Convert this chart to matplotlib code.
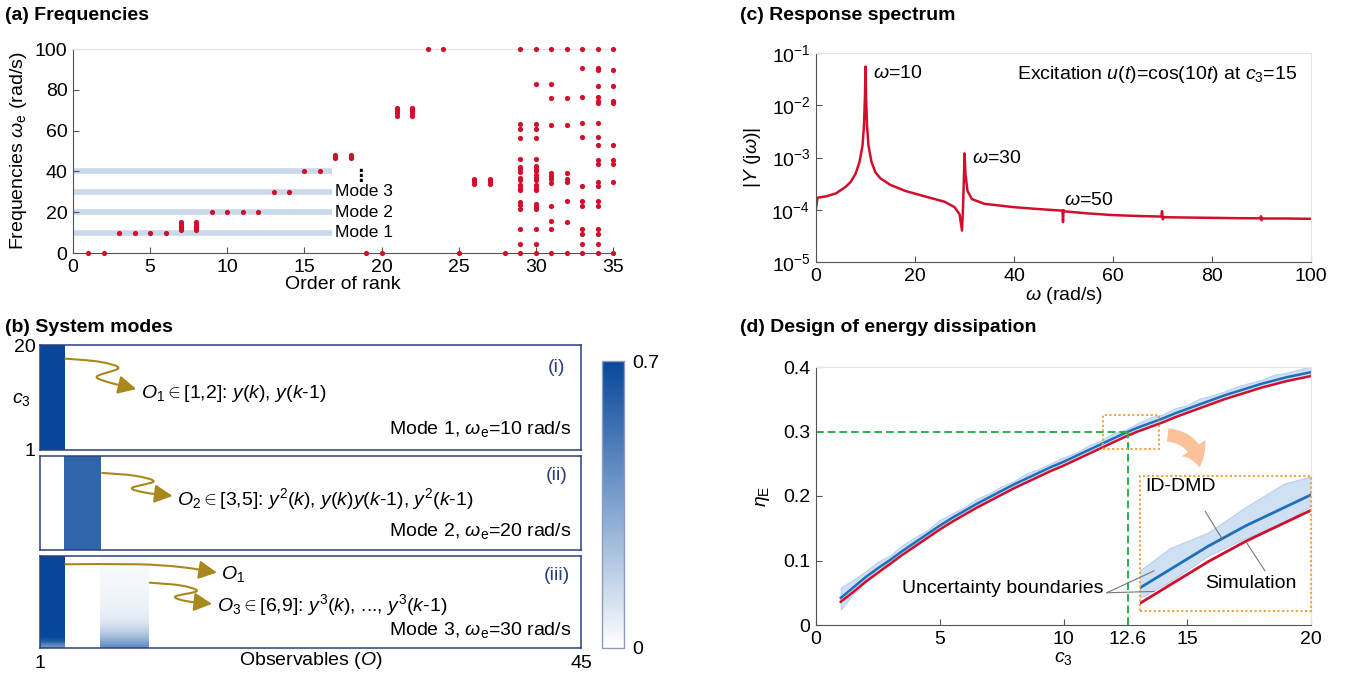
import numpy as np
import matplotlib
matplotlib.use('Agg')
import matplotlib.pyplot as plt
from matplotlib.path import Path
from matplotlib.patches import FancyArrowPatch, Rectangle
from matplotlib.lines import Line2D
from matplotlib.colors import LinearSegmentedColormap
from matplotlib.ticker import NullLocator

plt.rcParams['font.family'] = ['Liberation Sans', 'DejaVu Sans']
plt.rcParams['mathtext.fontset'] = 'custom'
plt.rcParams['mathtext.rm'] = 'Liberation Sans'
plt.rcParams['mathtext.it'] = 'Liberation Sans:italic'
plt.rcParams['mathtext.bf'] = 'Liberation Sans:bold'
plt.rcParams['mathtext.sf'] = 'Liberation Sans'
plt.rcParams['font.size'] = 14

# ---------------- (a) eigen-frequencies vs rank ----------------
rank_single = [1, 2, 3, 4, 5, 6, 9, 10, 11, 12, 13, 14, 15, 16, 19, 20, 23, 24, 25, 28]
freq_single = [0, 0, 10, 10, 10, 10, 20, 20, 20, 20, 30, 30, 40, 40, 0, 0, 100, 100, 0, 0]
stack_7_8 = [11.3, 12.3, 13.3, 14.3, 15.4]
stack_17_18 = [46.6, 47.2, 47.8]
stack_21_22 = [67.4, 68.4, 69.4, 70.4, 71.0]
stack_26_27 = [33.8, 34.8, 35.8, 36.3]
col29 = [100, 63.0, 60.9, 56.2, 45.9, 42.2, 41.1, 39.8, 37.0, 36.0, 33.2, 31.9, 30.8,
         25.0, 23.4, 21.8, 11.6, 4.6, 0]
col30 = [100, 83.0, 63.0, 60.9, 56.2, 45.9, 42.7, 41.4, 40.3, 38.1, 37.0, 36.0, 33.2,
         32.0, 30.9, 24.2, 23.1, 21.5, 11.6, 4.6, 0]
col31 = [100, 83.0, 75.8, 62.7, 39.0, 37.7, 36.2, 34.4, 22.9, 15.6, 11.6, 0]
col32 = [100, 75.8, 62.7, 39.3, 36.5, 34.6, 25.5, 15.2, 0]
col33 = [100, 90.7, 76.4, 63.7, 57.0, 32.7, 25.5, 22.9, 11.6, 9.5, 4.6, 0]
col34 = [100, 90.7, 89.5, 82.0, 76.4, 74.3, 73.5, 63.7, 57.0, 52.9, 45.5, 43.4, 34.9,
         32.7, 25.5, 22.9, 11.6, 9.5, 4.6, 0]
col35 = [100, 89.7, 82.0, 74.3, 73.5, 52.9, 45.5, 43.4, 34.9, 0]
mode_freqs = [10, 20, 30, 40]
mode_names = ['Mode 1', 'Mode 2', 'Mode 3', '']
band_end = 16.8

# ---------------- (b) mode participation ----------------
n_obs = 45
mode1_o1 = [0.7] * 20
mode2_o2 = [0.58] * 20
mode3_o1 = [0.42, 0.62] + [0.7] * 18
mode3_o3 = [0.42, 0.33, 0.25, 0.19, 0.14, 0.10, 0.08, 0.065, 0.055, 0.05,
            0.045, 0.04, 0.035, 0.03, 0.03, 0.025, 0.025, 0.02, 0.02, 0.02]

# ---------------- (c) response spectrum ----------------
omega = [0, 0.3, 2, 4, 6, 7, 8, 8.8, 9.4, 9.7, 9.9, 10.0, 10.1, 10.3, 10.6, 11.2,
         12, 13, 15, 18, 22, 26, 28, 29, 29.5, 29.7, 29.9, 30.0, 30.2, 30.6, 31.5,
         34, 40, 45, 49.8, 49.9, 50.0, 50.3, 55, 60, 65, 69.8, 69.9, 70.05, 70.3,
         75, 80, 85, 89.8, 89.9, 90.0, 90.2, 95, 100]
Y_mag = [1.05e-4, 1.7e-4, 1.8e-4, 2.05e-4, 2.75e-4, 3.4e-4, 4.9e-4, 8.3e-4, 1.7e-3,
         4.2e-3, 1.6e-2, 5.5e-2, 1.6e-2, 4.2e-3, 1.7e-3, 8.3e-4,
         5.2e-4, 4.0e-4, 3.0e-4, 2.3e-4, 1.8e-4, 1.42e-4, 1.12e-4, 8.2e-5, 4.0e-5,
         1.1e-4, 4.8e-4, 1.2e-3, 4.8e-4, 2.3e-4, 1.6e-4,
         1.3e-4, 1.12e-4, 1.03e-4, 9.6e-5, 5.8e-5, 9.8e-5, 9.3e-5, 8.5e-5, 7.9e-5, 7.6e-5,
         7.4e-5, 9.4e-5, 6.6e-5, 7.2e-5,
         7.1e-5, 7.0e-5, 6.9e-5, 6.85e-5, 7.5e-5, 6.3e-5, 6.8e-5, 6.8e-5, 6.7e-5]

# ---------------- (d) energy dissipation ----------------
c3 = np.arange(1, 20.5, 0.5)
eta_dmd = [0.042, 0.058, 0.074, 0.088, 0.101, 0.115, 0.128, 0.141, 0.154, 0.166,
           0.177, 0.188, 0.198, 0.208, 0.218, 0.227, 0.236, 0.245, 0.253, 0.262,
           0.271, 0.280, 0.289, 0.298, 0.306, 0.313, 0.320, 0.328, 0.335, 0.342,
           0.349, 0.356, 0.362, 0.368, 0.374, 0.379, 0.384, 0.388, 0.392]
eta_sim = [0.036, 0.051, 0.067, 0.081, 0.095, 0.109, 0.122, 0.135, 0.148, 0.160,
           0.171, 0.182, 0.192, 0.202, 0.212, 0.221, 0.230, 0.239, 0.247, 0.256,
           0.265, 0.274, 0.283, 0.292, 0.300, 0.307, 0.314, 0.322, 0.329, 0.336,
           0.343, 0.350, 0.356, 0.362, 0.368, 0.373, 0.378, 0.382, 0.386]
band_up = [0.016, 0.012, 0.009, 0.010, 0.007, 0.009, 0.008, 0.006, 0.009, 0.007,
           0.006, 0.008, 0.006, 0.007, 0.005, 0.008, 0.006, 0.006, 0.007, 0.005,
           0.007, 0.006, 0.008, 0.005, 0.007, 0.009, 0.006, 0.008, 0.006, 0.009,
           0.007, 0.006, 0.008, 0.007, 0.006, 0.009, 0.007, 0.008, 0.009]
band_dn = [0.018, 0.010, 0.008, 0.006, 0.007, 0.005, 0.006, 0.005, 0.004, 0.005,
           0.004, 0.005, 0.004, 0.004, 0.005, 0.004, 0.004, 0.005, 0.004, 0.004,
           0.005, 0.004, 0.005, 0.004, 0.005, 0.006, 0.004, 0.005, 0.004, 0.005,
           0.004, 0.004, 0.005, 0.004, 0.004, 0.005, 0.004, 0.004, 0.005]
c3_design = 12.6
eta_target = 0.3

RED = '#d20f2b'
BLUE = '#1f6fb8'
GOLD = '#a8871c'
NAVY = '#2c3f7c'
AXC = '#555555'
ORANGE = '#f2a43a'

W, H = 1346, 682
fig = plt.figure(figsize=(W / 100, H / 100), dpi=100)


def box(l, t, r, b):
    return [l / W, 1 - b / H, (r - l) / W, (b - t) / H]


def style(ax, faint=('top', 'right')):
    for s in ['left', 'bottom']:
        ax.spines[s].set_color(AXC)
    for s in ['top', 'right']:
        if s in faint:
            ax.spines[s].set_color('#e4e4e4')
        else:
            ax.spines[s].set_visible(False)
    ax.tick_params(direction='in', length=4, color=AXC, labelsize=14, pad=4)


def dotted_frame(ax):
    for s in ax.spines.values():
        s.set_visible(False)
    ax.add_patch(Rectangle((0, 0), 1, 1, transform=ax.transAxes, fill=False,
                           ls=(0, (1, 1.2)), lw=1.5, ec=ORANGE, clip_on=False, zorder=5))


# ---------- (a) ----------
axa = fig.add_axes(box(73, 49, 613, 253))
style(axa, faint=('top',))
axa.hlines(mode_freqs, 0, band_end, color='#c9d8ea', lw=4, zorder=1)
for f, name in zip(mode_freqs, mode_names):
    axa.text(band_end + 0.2, f, name, va='center', ha='left', fontsize=12.5)
axa.text(18.6, 37.5, '⋮', family=['DejaVu Sans'], fontsize=12, ha='center', va='center',
         fontweight='bold')
kw = dict(s=14, color=RED, zorder=3, clip_on=False, linewidths=0)
axa.scatter(rank_single, freq_single, **kw)
for pair, vals in [((7, 8), stack_7_8), ((17, 18), stack_17_18),
                   ((21, 22), stack_21_22), ((26, 27), stack_26_27)]:
    for r in pair:
        axa.scatter([r] * len(vals), vals, **kw)
for r, vals in zip(range(29, 36), [col29, col30, col31, col32, col33, col34, col35]):
    axa.scatter([r] * len(vals), vals, **kw)
axa.set_xlim(0, 35)
axa.set_ylim(0, 100)
axa.set_xticks(range(0, 36, 5))
axa.set_yticks(range(0, 101, 20))
axa.set_xlabel('Order of rank', fontsize=14, labelpad=0)
axa.set_ylabel(r'Frequencies $\omega_{\rm e}$ (rad/s)', fontsize=14, labelpad=4)
fig.text(5 / W, 1 - 15 / H, '(a) Frequencies', fontsize=14, fontweight='bold', va='center')

# ---------- (b) ----------
cmap = LinearSegmentedColormap.from_list('modes', ['#ffffff', '#7fa3cf', '#07479a'])
row_boxes = [(345, 450), (456, 550), (556, 648)]
blocks = [[((1, 2), mode1_o1)],
          [((3, 5), mode2_o2)],
          [((1, 2), mode3_o1), ((6, 9), mode3_o3)]]

rows = []
for (t, b), blk in zip(row_boxes, blocks):
    ax = fig.add_axes(box(40, t, 581, b))
    for (c0, c1), vals in blk:
        im = ax.imshow(np.array(vals)[:, None], cmap=cmap, vmin=0, vmax=0.7, origin='lower',
                       aspect='auto', extent=(c0 - 0.5, c1 + 0.5, 0.5, 20.5),
                       interpolation='bilinear')
    ax.set_xlim(0.5, n_obs + 0.5)
    ax.set_ylim(0.5, 20.5)
    for s in ax.spines.values():
        s.set_color(NAVY)
        s.set_linewidth(1.1)
    ax.set_xticks([])
    ax.set_yticks([])
    rows.append(ax)

rows[0].set_yticks([0.5, 20.5])
rows[0].set_yticklabels(['1', '20'])
rows[0].tick_params(axis='y', length=0, pad=3, labelsize=14)
rows[0].text(-0.035, 0.48, r'$c_3$', transform=rows[0].transAxes, ha='center', va='center',
             fontsize=14)
rows[2].set_xticks([0.5, n_obs + 0.5])
rows[2].set_xticklabels(['1', '45'])
rows[2].tick_params(axis='x', length=0, pad=5, labelsize=14)
rows[2].set_xlabel(r'Observables ($O$)', fontsize=14, labelpad=-16)


def wavy(ax, pts):
    pts = np.asarray(pts, float)
    p = np.vstack([pts[0], pts, pts[-1]])
    verts = [tuple(pts[0])]
    codes = [Path.MOVETO]
    for i in range(1, len(p) - 2):
        c1 = p[i] + (p[i + 1] - p[i - 1]) / 6
        c2 = p[i + 1] - (p[i + 2] - p[i]) / 6
        verts += [tuple(c1), tuple(c2), tuple(p[i + 1])]
        codes += [Path.CURVE4] * 3
    arr = FancyArrowPatch(path=Path(verts, codes), arrowstyle='-|>,head_length=0.55,head_width=0.28',
                          mutation_scale=20, lw=1.5, color=GOLD, transform=ax.transAxes,
                          clip_on=False)
    ax.add_patch(arr)


wavy(rows[0], [(0.047, 0.87), (0.11, 0.84), (0.145, 0.78), (0.105, 0.70),
               (0.13, 0.64), (0.178, 0.58)])
rows[0].text(0.186, 0.54, r'$O_1$$\in$[1,2]: $y$($k$), $y$($k$-1)', transform=rows[0].transAxes,
             va='center', fontsize=14)
wavy(rows[1], [(0.115, 0.82), (0.175, 0.79), (0.21, 0.73), (0.17, 0.66),
               (0.195, 0.61), (0.245, 0.575)])
rows[1].text(0.253, 0.54, r'$O_2$$\in$[3,5]: $y^2$($k$), $y$($k$)$y$($k$-1), $y^2$($k$-1)',
             transform=rows[1].transAxes, va='center', fontsize=14)
wavy(rows[2], [(0.047, 0.91), (0.18, 0.91), (0.26, 0.88), (0.327, 0.82)])
rows[2].text(0.335, 0.80, r'$O_1$', transform=rows[2].transAxes, va='center', fontsize=14)
wavy(rows[2], [(0.203, 0.71), (0.26, 0.68), (0.29, 0.62), (0.25, 0.56),
               (0.27, 0.51), (0.318, 0.48)])
rows[2].text(0.328, 0.47, r'$O_3$$\in$[6,9]: $y^3$($k$), ..., $y^3$($k$-1)',
             transform=rows[2].transAxes, va='center', fontsize=14)
for ax, tag, mode in zip(rows, ['(i)', '(ii)', '(iii)'], ['1', '2', '3']):
    ax.text(0.955, 0.79, tag, transform=ax.transAxes, ha='center', va='center', fontsize=14,
            color=NAVY)
    ax.text(0.982, 0.2, r'Mode %s, $\omega_{\rm e}$=%d0 rad/s' % (mode, int(mode)),
            transform=ax.transAxes, ha='right', va='center', fontsize=14)

cax = fig.add_axes(box(602, 361, 624, 648))
cb = fig.colorbar(im, cax=cax, ticks=[0, 0.7])
cb.ax.set_yticklabels(['0', '0.7'])
cb.ax.tick_params(length=0, labelsize=14, pad=6)
cb.outline.set_edgecolor('#8e9bbb')
cb.outline.set_linewidth(1)
fig.text(5 / W, 1 - 327 / H, '(b) System modes', fontsize=14, fontweight='bold', va='center')

# ---------- (c) ----------
axc = fig.add_axes(box(816, 53, 1311, 262))
style(axc)
axc.semilogy(omega, Y_mag, color=RED, lw=1.8)
axc.set_xlim(0, 100)
axc.set_ylim(1e-5, 1e-1)
axc.yaxis.set_minor_locator(NullLocator())
axc.set_xticks(range(0, 101, 20))
axc.set_xlabel(r'$\omega$ (rad/s)', fontsize=14, labelpad=0)
axc.set_ylabel(r'|$Y$ (j$\omega$)|', fontsize=14, labelpad=6)
axc.text(11.6, 0.041, r'$\omega$=10', fontsize=14, va='center')
axc.text(31.5, 9.5e-4, r'$\omega$=30', fontsize=14, va='center')
axc.text(50.0, 1.5e-4, r'$\omega$=50', fontsize=14, va='center')
axc.text(97.2, 0.039, r'Excitation $u$($t$)=cos(10$t$) at $c_3$=15', fontsize=14,
         ha='right', va='center')
fig.text(740 / W, 1 - 15 / H, '(c) Response spectrum', fontsize=14, fontweight='bold',
         va='center')

# ---------- (d) ----------
axd = fig.add_axes(box(816, 367, 1311, 625))
style(axd)
lo = np.array(eta_dmd) - np.array(band_dn)
hi = np.array(eta_dmd) + np.array(band_up)
axd.fill_between(c3, lo, hi, color='#cfe0f5', lw=0.8, edgecolor='#b9d0ee')
axd.plot(c3, eta_sim, color=RED, lw=1.8)
axd.plot(c3, eta_dmd, color=BLUE, lw=1.8)
green = dict(color='#2bb24c', lw=1.4, dashes=(4, 2))
axd.plot([0, c3_design], [eta_target, eta_target], **green)
axd.plot([c3_design, c3_design], [0, eta_target], **green)
axd.set_xlim(0, 20)
axd.set_ylim(0, 0.4)
axd.set_xticks([0, 5, 10, 12.6, 15, 20])
axd.set_xticklabels(['0', '5', '10', '12.6', '15', '20'])
axd.set_yticks([0, 0.1, 0.2, 0.3, 0.4])
axd.set_yticklabels(['0', '0.1', '0.2', '0.3', '0.4'])
axd.set_xlabel(r'$c_3$', fontsize=14, labelpad=2)
axd.set_ylabel(r'$\eta_{\rm E}$', fontsize=14, labelpad=8)
zoom_x = (11.6, 13.85)
zoom_y = (0.2728, 0.3252)
axd.add_patch(Rectangle((zoom_x[0], zoom_y[0]), zoom_x[1] - zoom_x[0], zoom_y[1] - zoom_y[0],
                        fill=False, ls=(0, (1, 1.2)), lw=1.5, ec=ORANGE, zorder=4))
axd.add_patch(FancyArrowPatch((14.1, 0.295), (15.5, 0.24), connectionstyle='arc3,rad=-0.45',
                              arrowstyle='simple,head_width=1.3,head_length=0.9,tail_width=0.6',
                              mutation_scale=16, color='#fbc29a', lw=0, zorder=4))
fig.text(740 / W, 1 - 327 / H, '(d) Design of energy dissipation', fontsize=14,
         fontweight='bold', va='center')

axi = fig.add_axes(box(1140, 476, 1311, 611))
axi.fill_between(c3, lo, hi, color='#cfe0f5', lw=0.8, edgecolor='#b9d0ee')
axi.plot(c3, eta_sim, color=RED, lw=2)
axi.plot(c3, eta_dmd, color=BLUE, lw=2)
axi.set_xlim(*zoom_x)
axi.set_ylim(*zoom_y)
axi.set_xticks([])
axi.set_yticks([])
dotted_frame(axi)
fig.text(13.3, 0.214, 'ID-DMD', transform=axd.transData, fontsize=14, va='center')
fig.text(15.73, 0.065, 'Simulation', transform=axd.transData, fontsize=14, va='center')
fig.text(11.6, 0.056, 'Uncertainty boundaries', transform=axd.transData, fontsize=14,
         va='center', ha='right')
for xs, ys in [((11.75, 13.66), (0.05, 0.084)), ((11.75, 13.66), (0.05, 0.052)),
               ((15.73, 16.4), (0.176, 0.134)), ((18.14, 17.39), (0.084, 0.128))]:
    fig.add_artist(Line2D(xs, ys, transform=axd.transData, color='#777777', lw=0.8))

fig.savefig('out.png', dpi=100)
